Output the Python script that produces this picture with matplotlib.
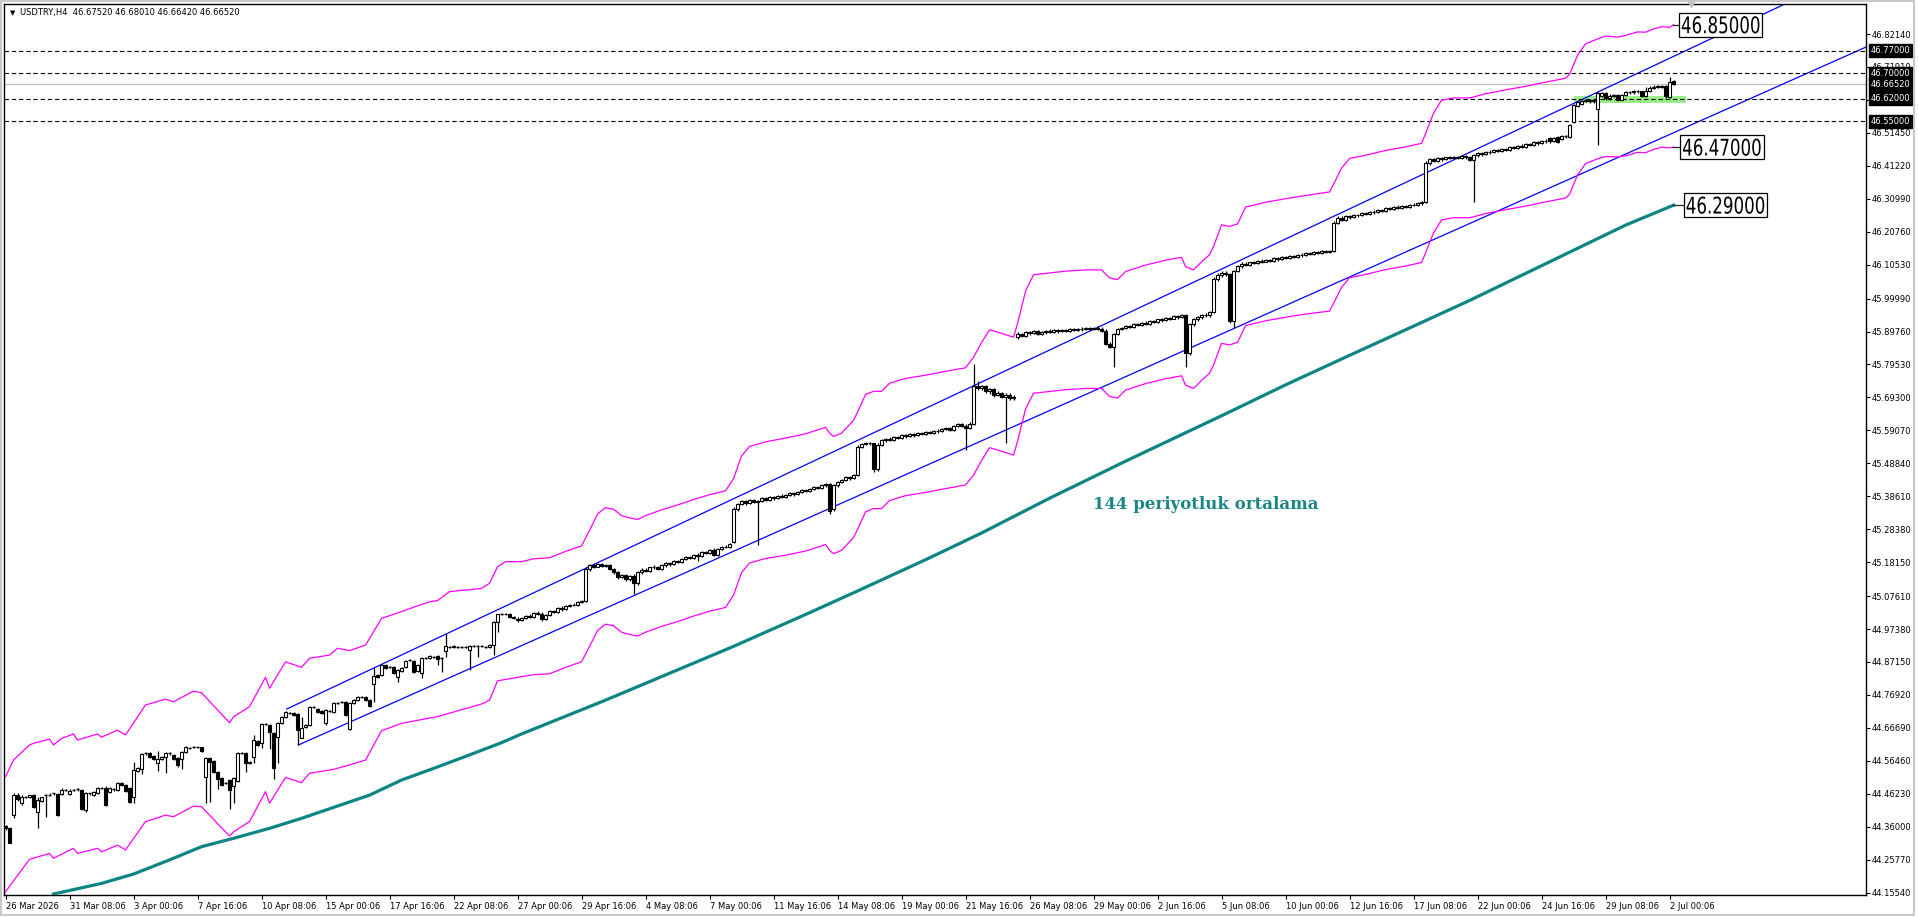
import matplotlib.pyplot as plt
from matplotlib.patches import Rectangle, PathPatch
from matplotlib.textpath import TextPath
from matplotlib.font_manager import FontProperties
from matplotlib.transforms import blended_transform_factory, Affine2D, ScaledTranslation
import numpy as np

header = "USDTRY,H4  46.67520 46.68010 46.66420 46.66520"

x_labels = ['26 Mar 2026', '31 Mar 08:06', '3 Apr 00:06', '7 Apr 16:06', '10 Apr 08:06',
            '15 Apr 00:06', '17 Apr 16:06', '22 Apr 08:06', '27 Apr 00:06', '29 Apr 16:06',
            '4 May 08:06', '7 May 00:06', '11 May 16:06', '14 May 08:06', '19 May 00:06',
            '21 May 16:06', '26 May 08:06', '29 May 00:06', '2 Jun 16:06', '5 Jun 08:06',
            '10 Jun 00:06', '12 Jun 16:06', '17 Jun 08:06', '22 Jun 00:06', '24 Jun 16:06',
            '29 Jun 08:06', '2 Jul 00:06']
y_labels = ['46.82140', '46.71910', '46.61680', '46.51450', '46.41220', '46.30990', '46.20760',
            '46.10530', '45.99990', '45.89760', '45.79530', '45.69300', '45.59070', '45.48840',
            '45.38610', '45.28380', '45.18150', '45.07610', '44.97380', '44.87150', '44.76920',
            '44.66690', '44.56460', '44.46230', '44.36000', '44.25770', '44.15540']

# H4 candles, one value per bar
bar_open = [44.363, 44.357, 44.396, 44.458, 44.435, 44.453, 44.451, 44.458, 44.407, 44.441,
            44.458, 44.460, 44.464, 44.461, 44.461, 44.474, 44.461, 44.474, 44.476, 44.474,
            44.412, 44.464, 44.458, 44.466, 44.479, 44.479, 44.469, 44.476, 44.474, 44.497,
            44.489, 44.479, 44.451, 44.534, 44.538, 44.588, 44.590, 44.581, 44.557, 44.569,
            44.577, 44.588, 44.583, 44.574, 44.569, 44.593, 44.605, 44.608, 44.606, 44.606,
            44.513, 44.573, 44.563, 44.531, 44.510, 44.497, 44.505, 44.486, 44.503, 44.590,
            44.588, 44.562, 44.577, 44.626, 44.619, 44.679, 44.676, 44.650, 44.639, 44.683,
            44.702, 44.714, 44.714, 44.709, 44.637, 44.671, 44.676, 44.733, 44.727, 44.720,
            44.683, 44.719, 44.717, 44.745, 44.748, 44.748, 44.662, 44.745, 44.753, 44.762,
            44.762, 44.753, 44.803, 44.831, 44.831, 44.862, 44.855, 44.855, 44.826, 44.843,
            44.857, 44.878, 44.875, 44.843, 44.836, 44.885, 44.883, 44.888, 44.890, 44.883,
            44.906, 44.919, 44.917, 44.919, 44.919, 44.917, 44.909, 44.921, 44.921, 44.921,
            44.917, 44.917, 44.924, 44.997, 45.019, 45.020, 45.022, 45.012, 45.004,
            45.002, 45.008, 45.015, 45.012, 45.025, 45.022, 45.004, 45.018, 45.030, 45.028,
            45.040, 45.035, 45.045, 45.050, 45.048, 45.058, 45.062, 45.160, 45.172, 45.168,
            45.175, 45.170, 45.172, 45.160, 45.150, 45.135, 45.142, 45.128, 45.140, 45.118,
            45.150, 45.158, 45.155, 45.165, 45.168, 45.160, 45.172, 45.178, 45.175, 45.185,
            45.182, 45.192, 45.198, 45.195, 45.205, 45.200, 45.212, 45.210, 45.220, 45.205,
            45.222, 45.230, 45.228, 45.245, 45.345, 45.362, 45.370, 45.365, 45.375, 45.368,
            45.372, 45.380, 45.376, 45.384, 45.380, 45.388, 45.385, 45.390, 45.395, 45.392,
            45.400, 45.405, 45.402, 45.410, 45.415, 45.412, 45.420, 45.425, 45.345, 45.420,
            45.430, 45.438, 45.445, 45.442, 45.452, 45.540, 45.548, 45.552, 45.550, 45.470,
            45.545, 45.560, 45.565, 45.562, 45.570, 45.568, 45.575, 45.572, 45.578, 45.575,
            45.582, 45.580, 45.585, 45.582, 45.590, 45.588, 45.595, 45.598, 45.592, 45.605,
            45.610, 45.605, 45.598, 45.612, 45.730, 45.722, 45.728, 45.712, 45.718, 45.700,
            45.708, 45.695, 45.702, 45.690, 45.880, 45.890, 45.885, 45.895, 45.892, 45.898,
            45.890, 45.895, 45.900, 45.896, 45.902, 45.898, 45.903, 45.900, 45.906, 45.902,
            45.907, 45.904, 45.909, 45.906, 45.910, 45.907, 45.900, 45.860, 45.850, 45.890,
            45.905, 45.910, 45.915, 45.912, 45.920, 45.918, 45.925, 45.922, 45.930, 45.928,
            45.935, 45.932, 45.940, 45.938, 45.945, 45.942, 45.948, 45.830, 45.920, 45.935,
            45.942, 45.950, 45.948, 45.958, 46.060, 46.072, 46.080, 46.075, 45.930, 46.085,
            46.100, 46.108, 46.105, 46.112, 46.110, 46.118, 46.115, 46.120, 46.118, 46.125,
            46.122, 46.128, 46.126, 46.132, 46.130, 46.136, 46.134, 46.140, 46.138, 46.144,
            46.141, 46.147, 46.144, 46.148, 46.235, 46.250, 46.245, 46.255, 46.252, 46.260,
            46.258, 46.265, 46.262, 46.270, 46.268, 46.275, 46.272, 46.280, 46.278, 46.285,
            46.282, 46.288, 46.285, 46.292, 46.290, 46.296, 46.300, 46.420, 46.432, 46.428,
            46.435, 46.432, 46.438, 46.436, 46.440, 46.437, 46.442, 46.438, 46.430, 46.445,
            46.452, 46.448, 46.456, 46.454, 46.460, 46.458, 46.465, 46.462, 46.470, 46.468,
            46.475, 46.472, 46.480, 46.478, 46.485, 46.482, 46.490, 46.500, 46.488, 46.502,
            46.495, 46.505, 46.502, 46.549, 46.598, 46.605, 46.613, 46.616, 46.612, 46.590,
            46.630, 46.638, 46.622, 46.630, 46.632, 46.618, 46.632, 46.642, 46.640, 46.645,
            46.643, 46.630, 46.645, 46.655, 46.658, 46.660, 46.660, 46.627, 46.6752]
bar_close = [44.355, 44.310, 44.458, 44.445, 44.453, 44.453, 44.457, 44.420, 44.443, 44.451,
             44.458, 44.460, 44.464, 44.396, 44.474, 44.474, 44.472, 44.474, 44.476, 44.414,
             44.464, 44.464, 44.469, 44.479, 44.479, 44.427, 44.479, 44.476, 44.497, 44.489,
             44.472, 44.438, 44.536, 44.541, 44.586, 44.588, 44.577, 44.569, 44.569, 44.577,
             44.590, 44.588, 44.569, 44.552, 44.593, 44.608, 44.605, 44.608, 44.606, 44.596,
             44.572, 44.562, 44.529, 44.507, 44.489, 44.497, 44.474, 44.510, 44.590, 44.590,
             44.557, 44.557, 44.629, 44.613, 44.679, 44.679, 44.655, 44.541, 44.683, 44.702,
             44.717, 44.714, 44.707, 44.660, 44.665, 44.676, 44.733, 44.733, 44.717, 44.712,
             44.722, 44.719, 44.745, 44.745, 44.748, 44.706, 44.745, 44.755, 44.762, 44.762,
             44.753, 44.735, 44.828, 44.826, 44.862, 44.852, 44.855, 44.836, 44.846, 44.854,
             44.875, 44.878, 44.841, 44.861, 44.883, 44.885, 44.891, 44.888, 44.880, 44.883,
             44.921, 44.919, 44.921, 44.919, 44.919, 44.917, 44.921, 44.921, 44.921, 44.921,
             44.917, 44.924, 44.997, 45.019, 45.020, 45.022, 45.010, 45.007, 45.002,
             45.008, 45.015, 45.012, 45.025, 45.022, 45.004, 45.018, 45.030, 45.028, 45.040,
             45.035, 45.045, 45.050, 45.048, 45.058, 45.062, 45.160, 45.172, 45.168, 45.175,
             45.170, 45.172, 45.160, 45.150, 45.135, 45.142, 45.128, 45.140, 45.118, 45.150,
             45.158, 45.155, 45.165, 45.168, 45.160, 45.172, 45.178, 45.175, 45.185, 45.182,
             45.192, 45.198, 45.195, 45.205, 45.200, 45.212, 45.210, 45.220, 45.205, 45.222,
             45.230, 45.228, 45.238, 45.345, 45.362, 45.370, 45.365, 45.375, 45.368, 45.372,
             45.380, 45.376, 45.384, 45.380, 45.388, 45.385, 45.390, 45.395, 45.392, 45.400,
             45.405, 45.402, 45.410, 45.415, 45.412, 45.420, 45.425, 45.340, 45.420, 45.430,
             45.438, 45.445, 45.442, 45.452, 45.540, 45.548, 45.552, 45.550, 45.470, 45.545,
             45.560, 45.565, 45.562, 45.570, 45.568, 45.575, 45.572, 45.578, 45.575, 45.582,
             45.580, 45.585, 45.582, 45.590, 45.588, 45.595, 45.598, 45.592, 45.605, 45.610,
             45.605, 45.598, 45.612, 45.730, 45.722, 45.728, 45.712, 45.718, 45.700, 45.708,
             45.695, 45.702, 45.690, 45.695, 45.890, 45.885, 45.895, 45.892, 45.898, 45.890,
             45.895, 45.900, 45.896, 45.902, 45.898, 45.903, 45.900, 45.906, 45.902, 45.907,
             45.904, 45.909, 45.906, 45.910, 45.907, 45.900, 45.860, 45.850, 45.890, 45.905,
             45.910, 45.915, 45.912, 45.920, 45.918, 45.925, 45.922, 45.930, 45.928, 45.935,
             45.932, 45.940, 45.938, 45.945, 45.942, 45.948, 45.830, 45.920, 45.935, 45.942,
             45.950, 45.948, 45.958, 46.060, 46.072, 46.080, 46.075, 45.930, 46.085, 46.100,
             46.108, 46.105, 46.112, 46.110, 46.118, 46.115, 46.120, 46.118, 46.125, 46.122,
             46.128, 46.126, 46.132, 46.130, 46.136, 46.134, 46.140, 46.138, 46.144, 46.141,
             46.147, 46.144, 46.148, 46.235, 46.250, 46.245, 46.255, 46.252, 46.260, 46.258,
             46.265, 46.262, 46.270, 46.268, 46.275, 46.272, 46.280, 46.278, 46.285, 46.282,
             46.288, 46.285, 46.292, 46.290, 46.296, 46.300, 46.420, 46.432, 46.428, 46.435,
             46.432, 46.438, 46.436, 46.440, 46.437, 46.442, 46.438, 46.430, 46.445, 46.452,
             46.448, 46.456, 46.454, 46.460, 46.458, 46.465, 46.462, 46.470, 46.468, 46.475,
             46.472, 46.480, 46.478, 46.485, 46.482, 46.490, 46.488, 46.488, 46.498, 46.487,
             46.505, 46.504, 46.539, 46.601, 46.610, 46.613, 46.616, 46.612, 46.616, 46.638,
             46.638, 46.622, 46.630, 46.632, 46.618, 46.632, 46.642, 46.640, 46.645, 46.643,
             46.630, 46.645, 46.655, 46.658, 46.660, 46.658, 46.628, 46.673, 46.6652]
bar_high = [44.365, 44.360, 44.464, 44.464, 44.457, 44.456, 44.460, 44.461, 44.451, 44.453,
            44.461, 44.464, 44.466, 44.464, 44.479, 44.477, 44.476, 44.477, 44.479, 44.476,
            44.469, 44.466, 44.472, 44.483, 44.482, 44.486, 44.482, 44.479, 44.500, 44.500,
            44.492, 44.483, 44.562, 44.545, 44.590, 44.592, 44.592, 44.583, 44.596, 44.580,
            44.593, 44.591, 44.586, 44.577, 44.596, 44.611, 44.608, 44.611, 44.609, 44.609,
            44.577, 44.576, 44.566, 44.534, 44.513, 44.500, 44.508, 44.513, 44.593, 44.593,
            44.591, 44.565, 44.645, 44.629, 44.682, 44.682, 44.679, 44.653, 44.686, 44.705,
            44.720, 44.717, 44.717, 44.712, 44.702, 44.679, 44.736, 44.736, 44.730, 44.723,
            44.725, 44.722, 44.748, 44.748, 44.751, 44.751, 44.748, 44.758, 44.765, 44.765,
            44.765, 44.756, 44.852, 44.834, 44.865, 44.865, 44.858, 44.858, 44.849, 44.857,
            44.878, 44.881, 44.878, 44.864, 44.886, 44.888, 44.894, 44.891, 44.893, 44.886,
            44.958, 44.922, 44.924, 44.922, 44.922, 44.920, 44.924, 44.924, 44.924, 44.924,
            44.920, 44.927, 45.000, 45.022, 45.023, 45.025, 45.025, 45.015, 45.010,
            45.012, 45.018, 45.019, 45.028, 45.029, 45.026, 45.021, 45.034, 45.033, 45.043,
            45.044, 45.048, 45.053, 45.054, 45.061, 45.065, 45.168, 45.176, 45.176, 45.178,
            45.179, 45.175, 45.175, 45.163, 45.154, 45.146, 45.145, 45.143, 45.144, 45.154,
            45.162, 45.162, 45.168, 45.172, 45.171, 45.175, 45.181, 45.182, 45.188, 45.189,
            45.195, 45.201, 45.202, 45.208, 45.209, 45.215, 45.216, 45.223, 45.224, 45.226,
            45.233, 45.234, 45.242, 45.352, 45.366, 45.374, 45.374, 45.378, 45.379, 45.376,
            45.383, 45.384, 45.387, 45.388, 45.391, 45.392, 45.393, 45.398, 45.399, 45.403,
            45.408, 45.409, 45.413, 45.418, 45.419, 45.423, 45.428, 45.428, 45.425, 45.434,
            45.441, 45.448, 45.449, 45.456, 45.545, 45.552, 45.556, 45.556, 45.553, 45.550,
            45.564, 45.568, 45.569, 45.573, 45.574, 45.578, 45.579, 45.581, 45.582, 45.585,
            45.586, 45.588, 45.589, 45.593, 45.594, 45.598, 45.602, 45.602, 45.608, 45.613,
            45.614, 45.610, 45.616, 45.798, 45.745, 45.732, 45.731, 45.722, 45.722, 45.712,
            45.711, 45.706, 45.706, 45.699, 45.895, 45.894, 45.898, 45.899, 45.902, 45.902,
            45.899, 45.903, 45.904, 45.905, 45.906, 45.906, 45.907, 45.909, 45.910, 45.910,
            45.911, 45.912, 45.913, 45.913, 45.914, 45.911, 45.904, 45.866, 45.894, 45.909,
            45.913, 45.918, 45.919, 45.923, 45.924, 45.928, 45.929, 45.933, 45.934, 45.938,
            45.939, 45.943, 45.944, 45.948, 45.949, 45.952, 45.952, 45.925, 45.939, 45.946,
            45.953, 45.954, 45.962, 46.068, 46.078, 46.084, 46.085, 46.079, 46.090, 46.104,
            46.112, 46.112, 46.115, 46.116, 46.121, 46.122, 46.123, 46.124, 46.128, 46.129,
            46.131, 46.132, 46.135, 46.136, 46.139, 46.140, 46.143, 46.144, 46.147, 46.148,
            46.150, 46.151, 46.152, 46.240, 46.255, 46.256, 46.258, 46.259, 46.263, 46.264,
            46.268, 46.269, 46.273, 46.274, 46.278, 46.279, 46.283, 46.284, 46.288, 46.289,
            46.291, 46.292, 46.295, 46.296, 46.299, 46.304, 46.428, 46.436, 46.436, 46.438,
            46.439, 46.441, 46.442, 46.443, 46.444, 46.445, 46.446, 46.442, 46.449, 46.456,
            46.456, 46.459, 46.460, 46.463, 46.464, 46.468, 46.469, 46.473, 46.474, 46.478,
            46.479, 46.483, 46.484, 46.488, 46.489, 46.493, 46.494, 46.503, 46.502, 46.505,
            46.508, 46.508, 46.543, 46.605, 46.614, 46.616, 46.619, 46.620, 46.620, 46.642,
            46.642, 46.641, 46.634, 46.636, 46.635, 46.636, 46.646, 46.646, 46.649, 46.649,
            46.646, 46.656, 46.660, 46.662, 46.664, 46.664, 46.662, 46.689, 46.6801]
bar_low = [44.350, 44.308, 44.386, 44.441, 44.427, 44.449, 44.449, 44.417, 44.355, 44.438,
           44.389, 44.455, 44.460, 44.394, 44.458, 44.470, 44.458, 44.470, 44.472, 44.412,
           44.407, 44.460, 44.455, 44.463, 44.476, 44.425, 44.466, 44.472, 44.472, 44.486,
           44.469, 44.435, 44.435, 44.530, 44.523, 44.584, 44.574, 44.566, 44.534, 44.566,
           44.526, 44.584, 44.566, 44.545, 44.538, 44.590, 44.602, 44.605, 44.603, 44.593,
           44.433, 44.438, 44.526, 44.476, 44.486, 44.493, 44.414, 44.433, 44.500, 44.586,
           44.531, 44.554, 44.559, 44.610, 44.603, 44.676, 44.600, 44.507, 44.559, 44.680,
           44.699, 44.711, 44.704, 44.614, 44.634, 44.668, 44.673, 44.730, 44.714, 44.709,
           44.676, 44.716, 44.714, 44.742, 44.745, 44.703, 44.659, 44.742, 44.750, 44.759,
           44.750, 44.732, 44.748, 44.823, 44.828, 44.849, 44.852, 44.833, 44.810, 44.840,
           44.854, 44.875, 44.838, 44.840, 44.821, 44.882, 44.880, 44.885, 44.862, 44.841,
           44.888, 44.916, 44.914, 44.916, 44.916, 44.914, 44.846, 44.918, 44.886, 44.918,
           44.914, 44.914, 44.893, 44.966, 45.016, 45.018, 45.007, 45.004, 44.995,
           44.998, 45.004, 45.008, 45.009, 45.018, 45.000, 45.001, 45.015, 45.024, 45.025,
           45.030, 45.032, 45.041, 45.044, 45.045, 45.054, 45.058, 45.155, 45.164, 45.165,
           45.166, 45.167, 45.156, 45.146, 45.130, 45.131, 45.124, 45.122, 45.082, 45.112,
           45.146, 45.150, 45.151, 45.161, 45.156, 45.157, 45.168, 45.171, 45.172, 45.178,
           45.179, 45.188, 45.190, 45.192, 45.185, 45.197, 45.206, 45.207, 45.200, 45.202,
           45.218, 45.224, 45.225, 45.240, 45.340, 45.358, 45.360, 45.361, 45.364, 45.236,
           45.368, 45.372, 45.372, 45.376, 45.377, 45.381, 45.382, 45.386, 45.388, 45.389,
           45.396, 45.398, 45.399, 45.406, 45.408, 45.409, 45.416, 45.330, 45.340, 45.416,
           45.426, 45.434, 45.438, 45.439, 45.448, 45.536, 45.544, 45.546, 45.462, 45.466,
           45.541, 45.556, 45.558, 45.559, 45.564, 45.565, 45.568, 45.569, 45.571, 45.572,
           45.576, 45.577, 45.578, 45.579, 45.584, 45.585, 45.591, 45.588, 45.589, 45.601,
           45.600, 45.529, 45.594, 45.608, 45.715, 45.716, 45.706, 45.705, 45.694, 45.696,
           45.690, 45.551, 45.684, 45.686, 45.875, 45.880, 45.882, 45.888, 45.889, 45.886,
           45.887, 45.891, 45.892, 45.893, 45.894, 45.895, 45.896, 45.897, 45.898, 45.899,
           45.900, 45.901, 45.902, 45.903, 45.903, 45.896, 45.855, 45.845, 45.787, 45.886,
           45.902, 45.906, 45.908, 45.909, 45.914, 45.915, 45.918, 45.919, 45.924, 45.925,
           45.928, 45.929, 45.934, 45.935, 45.938, 45.939, 45.787, 45.825, 45.916, 45.931,
           45.938, 45.944, 45.944, 45.954, 46.055, 46.068, 46.071, 45.925, 45.909, 46.081,
           46.096, 46.100, 46.101, 46.106, 46.106, 46.111, 46.112, 46.114, 46.115, 46.118,
           46.119, 46.122, 46.123, 46.126, 46.127, 46.130, 46.131, 46.134, 46.135, 46.137,
           46.138, 46.140, 46.141, 46.145, 46.230, 46.240, 46.241, 46.248, 46.249, 46.254,
           46.255, 46.258, 46.259, 46.264, 46.265, 46.268, 46.269, 46.274, 46.275, 46.278,
           46.279, 46.281, 46.282, 46.286, 46.287, 46.292, 46.296, 46.416, 46.424, 46.425,
           46.428, 46.429, 46.432, 46.433, 46.433, 46.434, 46.434, 46.426, 46.300, 46.441,
           46.444, 46.445, 46.450, 46.451, 46.454, 46.455, 46.458, 46.459, 46.464, 46.465,
           46.468, 46.469, 46.474, 46.475, 46.478, 46.479, 46.484, 46.484, 46.485, 46.484,
           46.492, 46.500, 46.498, 46.545, 46.595, 46.600, 46.610, 46.608, 46.608, 46.477,
           46.626, 46.618, 46.618, 46.626, 46.612, 46.615, 46.628, 46.636, 46.636, 46.639,
           46.626, 46.627, 46.641, 46.651, 46.654, 46.654, 46.622, 46.624, 46.6642]

# 144 period moving average
ma_bar = [12, 24, 32, 41, 49, 57, 66, 74, 82, 91, 99, 107, 116, 124, 129, 150, 182, 200, 213,
          230, 244, 261, 280, 305, 320, 335, 350, 366, 380, 396, 405, 417]
ma_val = [44.151, 44.184, 44.213, 44.257, 44.298, 44.324, 44.355, 44.386, 44.420, 44.458,
          44.505, 44.541, 44.583, 44.621, 44.648, 44.753, 44.920, 45.019, 45.092, 45.189,
          45.272, 45.380, 45.495, 45.642, 45.732, 45.818, 45.903, 45.994, 46.078, 46.174,
          46.228, 46.290]

# envelope bands (upper / lower)
upper_bar = [0, 2, 6, 7, 11, 12, 14, 17, 18, 23, 24, 28, 30, 35, 40, 42, 47, 49, 56, 57, 61,
             65, 66, 70, 74, 76, 81, 83, 86, 90, 94, 99, 106, 108, 111, 119, 121, 123, 125, 129,
             132, 136, 140, 144, 146, 148, 150, 152, 154, 156, 158, 160, 164, 168, 172, 176,
             180, 182, 184, 186, 190, 195, 200, 205, 206, 207, 209, 212, 213, 215, 217, 219,
             221, 225, 230, 235, 240, 242, 244, 246, 250, 252, 253, 255, 257, 260, 265, 270,
             274, 276, 278, 280, 285, 290, 294, 295, 297, 299, 301, 302, 304, 306, 308, 310,
             315, 320, 325, 331, 332, 334, 336, 340, 345, 350, 354, 355, 357, 359, 362, 366,
             367, 370, 375, 380, 385, 390, 391, 392, 393, 395, 398, 400, 403, 405, 408, 410,
             412, 414, 416, 417]
upper_val = [44.515, 44.567, 44.614, 44.619, 44.632, 44.614, 44.634, 44.648, 44.629, 44.648,
             44.638, 44.660, 44.645, 44.738, 44.756, 44.748, 44.781, 44.776, 44.683, 44.701,
             44.733, 44.824, 44.790, 44.872, 44.855, 44.883, 44.893, 44.914, 44.907, 44.924,
             45.007, 45.028, 45.059, 45.062, 45.090, 45.100, 45.116, 45.167, 45.183, 45.183,
             45.192, 45.195, 45.215, 45.232, 45.280, 45.331, 45.351, 45.346, 45.326, 45.319,
             45.314, 45.326, 45.344, 45.359, 45.376, 45.391, 45.403, 45.441, 45.511, 45.541,
             45.555, 45.567, 45.580, 45.600, 45.582, 45.572, 45.582, 45.622, 45.647, 45.702,
             45.712, 45.712, 45.737, 45.752, 45.762, 45.774, 45.785, 45.818, 45.863, 45.903,
             45.888, 45.880, 45.923, 46.023, 46.074, 46.078, 46.085, 46.089, 46.089, 46.064,
             46.059, 46.084, 46.104, 46.119, 46.128, 46.099, 46.089, 46.114, 46.136, 46.162,
             46.229, 46.224, 46.232, 46.284, 46.299, 46.310, 46.320, 46.331, 46.355, 46.405,
             46.435, 46.445, 46.460, 46.471, 46.482, 46.512, 46.576, 46.616, 46.623, 46.623,
             46.626, 46.636, 46.648, 46.659, 46.672, 46.684, 46.696, 46.726, 46.756, 46.791,
             46.806, 46.815, 46.812, 46.817, 46.828, 46.827, 46.837, 46.844, 46.842, 46.850]
lower_bar = [0, 6, 11, 12, 17, 18, 23, 24, 28, 30, 35, 40, 42, 47, 49, 56, 57, 61, 65, 66,
             70, 74, 76, 82, 86, 90, 94, 99, 108, 119, 121, 123, 129,
             132, 136, 140, 144, 146, 148, 150, 152, 154, 156, 158, 160, 164, 168, 172, 176,
             180, 182, 184, 186, 190, 195, 200, 205, 206, 207, 209, 212, 213, 215, 217, 219,
             221, 225, 230, 235, 240, 242, 244, 246, 250, 252, 253, 255, 257, 260, 265, 270,
             274, 276, 278, 280, 285, 290, 294, 295, 297, 299, 301, 302, 304, 306, 308, 310,
             315, 320, 325, 331, 332, 334, 336, 340, 345, 350, 354, 355, 357, 359, 362, 366,
             367, 370, 375, 380, 385, 390, 391, 392, 393, 395, 398, 400, 403, 405, 408, 410,
             412, 414, 416, 417]
lower_val = [44.158, 44.259, 44.277, 44.262, 44.293, 44.277, 44.293, 44.282, 44.303, 44.288,
             44.376, 44.396, 44.391, 44.424, 44.422, 44.331, 44.344, 44.376, 44.469, 44.433,
             44.513, 44.497, 44.526, 44.538, 44.552, 44.567, 44.658, 44.681, 44.702, 44.741,
             44.753, 44.813, 44.826,
             44.832, 44.835, 44.855, 44.872, 44.920, 44.969, 44.989, 44.984, 44.964, 44.957,
             44.952, 44.964, 44.982, 44.997, 45.014, 45.029, 45.041, 45.079, 45.149, 45.179,
             45.193, 45.203, 45.216, 45.236, 45.218, 45.208, 45.218, 45.258, 45.283, 45.338,
             45.348, 45.348, 45.373, 45.388, 45.398, 45.410, 45.421, 45.452, 45.497, 45.537,
             45.522, 45.514, 45.557, 45.657, 45.706, 45.710, 45.717, 45.721, 45.721, 45.696,
             45.691, 45.716, 45.736, 45.751, 45.760, 45.731, 45.721, 45.746, 45.768, 45.794,
             45.861, 45.856, 45.864, 45.916, 45.931, 45.942, 45.952, 45.961, 45.985, 46.035,
             46.065, 46.075, 46.090, 46.101, 46.112, 46.142, 46.204, 46.244, 46.251, 46.251,
             46.254, 46.264, 46.276, 46.287, 46.300, 46.312, 46.324, 46.354, 46.384, 46.419,
             46.434, 46.441, 46.440, 46.443, 46.454, 46.453, 46.463, 46.470, 46.468, 46.470]

# trend lines (bar, price) anchors
upper_trend = [(70.3, 44.7255), (444.3, 46.9115)]
lower_trend = [(73.2, 44.6137), (465.3, 46.7820)]

level_lines = [46.77, 46.70, 46.62, 46.55]
bid_price = 46.6652
zone = (392.0, 420.0, 46.606, 46.629)

W, H = 1918, 918
fig = plt.figure(figsize=(W / 100, H / 100), dpi=100)
fig.patch.set_facecolor('white')
ax = fig.add_axes([4 / W, 1 - 895 / H, 1862 / W, 891 / H])
ax.set_xlim(-0.375, 465.1)
ax.set_ylim(44.1480, 46.9146)

# frame of the window
fig.add_artist(Rectangle((1 / W, 3 / H), 1913 / W, 914 / H, transform=fig.transFigure,
                         fill=False, edgecolor='#c8c8c8', lw=1.5))

idx = np.arange(len(bar_open))
o = np.array(bar_open)
c = np.array(bar_close)
hi = np.array(bar_high)
lo = np.array(bar_low)

ax.vlines(idx, lo, hi, color='black', lw=0.9, zorder=4)
body = np.abs(c - o)
doji = body < 0.0015
up = c >= o
face = np.where(up, 'white', 'black')
ax.bar(idx[~doji], body[~doji], bottom=np.minimum(o, c)[~doji], width=0.62,
       color=face[~doji], edgecolor='black', lw=0.8, zorder=5)
ax.hlines(c[doji], idx[doji] - 0.4, idx[doji] + 0.4, color='black', lw=1.0, zorder=5)

# indicators
ax.plot(upper_bar, upper_val, color='#ff00ff', lw=0.9, zorder=3)
ax.plot(lower_bar, lower_val, color='#ff00ff', lw=0.9, zorder=3)
ax.plot(ma_bar, ma_val, color='#0e8585', lw=2.3, zorder=3)

# trend lines drawn as rays
x_end = ax.get_xlim()[1]
for (x1, y1), (x2, y2) in [upper_trend, lower_trend]:
    k = (y2 - y1) / (x2 - x1)
    ax.plot([x1, x_end], [y1, y1 + k * (x_end - x1)], color='#0000ff', lw=0.9, zorder=2)

# horizontal levels
for lv in level_lines:
    ax.axhline(lv, color='black', lw=0.8, ls=(0, (4, 2.5)), zorder=2)
ax.axhline(bid_price, color='#c0c0c0', lw=0.9, zorder=1)
ax.add_patch(Rectangle((zone[0], zone[2]), zone[1] - zone[0], zone[3] - zone[2],
                       facecolor='#99ee88', edgecolor='none', zorder=1))


def price_tag(x, y, s):
    # narrow boxed label, text squeezed horizontally like the terminal font
    em, sx = 23.0, 0.725
    tp = TextPath((0, 0), s, size=em, prop=FontProperties(family='DejaVu Sans'))
    ext = tp.get_extents()
    off = ScaledTranslation(x, y, ax.transData)
    t_tr = Affine2D().translate(-ext.x0, -(ext.y0 + ext.y1) / 2).scale(sx, 1.0) \
        + Affine2D().translate(3, 0) + off
    ax.add_patch(PathPatch(tp, transform=t_tr, fc='black', ec='none', zorder=7))
    wbox = ext.width * sx + 6
    ax.add_patch(Rectangle((0, -12), wbox, 24, transform=off, fc='white', ec='black',
                           lw=0.9, zorder=6))


for end_val, box_x in [(upper_val[-1], 418.3), (lower_val[-1], 418.6), (ma_val[-1], 419.5)]:
    ax.plot([416.8, box_x], [end_val, end_val], color='#222222', lw=0.9, zorder=3)
    price_tag(box_x, end_val, f'{end_val:.5f}')

ax.text(271.8, 45.361, '144 periyotluk ortalama', family=['DejaVu Serif'], fontsize=12,
        fontweight='bold', color='#1b8585', ha='left', va='center')

# axes styling
for s in ax.spines.values():
    s.set_color('black')
    s.set_linewidth(1.0)
ax.yaxis.tick_right()
ax.set_yticks([float(v) for v in y_labels])
ax.set_yticklabels(y_labels)
ax.set_xticks(np.arange(len(x_labels)) * 16)
ax.set_xticklabels(x_labels, ha='left')
ax.tick_params(axis='y', direction='out', length=3, width=0.8, labelsize=6, pad=1.2)
ax.tick_params(axis='x', direction='out', length=3, width=0.8, labelsize=6, pad=2)

# right side price boxes
tr = blended_transform_factory(ax.transAxes, ax.transData)
for p in level_lines + [bid_price]:
    ax.text(1.0025, p, f'{p:.5f}', transform=tr, fontsize=6, color='white', ha='left',
            va='center', zorder=7, clip_on=False,
            bbox=dict(boxstyle='square,pad=0.25', fc='black', ec='black'))

fig.text(20 / W, 1 - 13 / H, header, fontsize=6, va='center', ha='left')
fig.text(10 / W, 1 - 13 / H, '\u25bc', fontsize=5, va='center', ha='left')
ax.plot([421.4], [1.0], marker='v', color='#c0c0c0', ms=5,
        transform=blended_transform_factory(ax.transData, ax.transAxes), clip_on=False, zorder=8)

fig.savefig('out.png', dpi=100)
